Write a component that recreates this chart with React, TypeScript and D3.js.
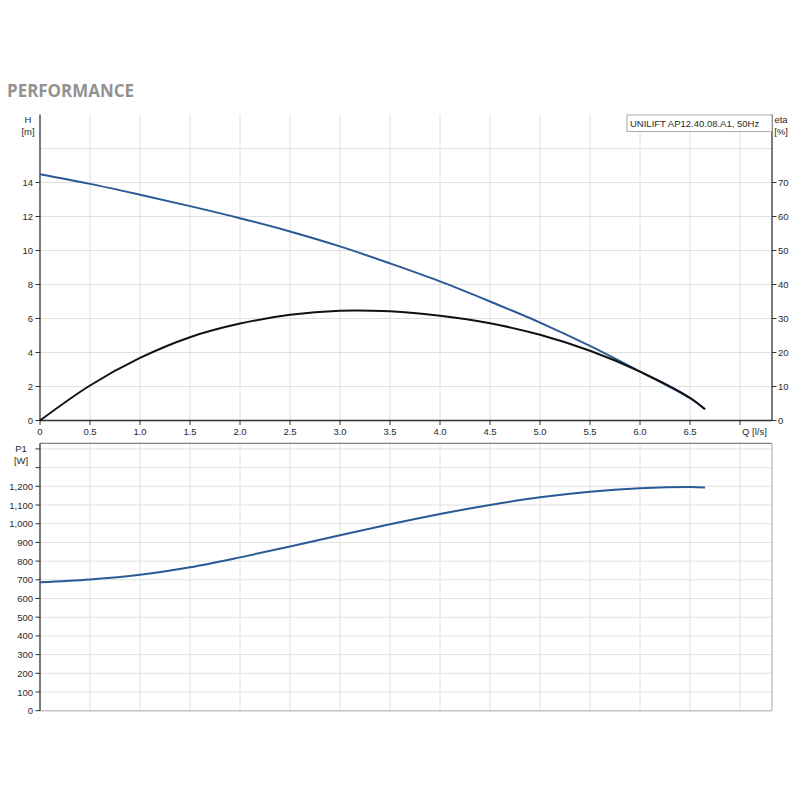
import React from 'react';
import * as d3 from 'd3';

// ---- data ----
const flowQ = [0, 0.5, 1, 1.5, 2, 2.5, 3, 3.5, 4, 4.5, 5, 5.5, 6, 6.5, 6.65];
const headH = [14.49, 13.92, 13.28, 12.61, 11.9, 11.12, 10.24, 9.24, 8.18, 7.0, 5.76, 4.39, 2.88, 1.31, 0.66];
const effEta = [0, 10.3, 18.4, 24.5, 28.5, 31.1, 32.3, 32.1, 30.8, 28.6, 25.2, 20.5, 14.4, 6.7, 3.3];
const powerP1 = [687, 702, 727, 767, 820, 878, 938, 997, 1052, 1100, 1141, 1171, 1189, 1196, 1194];

const qTickLabels = [0, 0.5, 1, 1.5, 2, 2.5, 3, 3.5, 4, 4.5, 5, 5.5, 6, 6.5];
const qGrid = [0.5, 1, 1.5, 2, 2.5, 3, 3.5, 4, 4.5, 5, 5.5, 6, 6.5, 7];
const hTicks = [0, 2, 4, 6, 8, 10, 12, 14];
const hGrid = [2, 4, 6, 8, 10, 12, 14, 16];
const etaTicks = [0, 10, 20, 30, 40, 50, 60, 70];
const p1Ticks = [0, 100, 200, 300, 400, 500, 600, 700, 800, 900, 1000, 1100, 1200, 1300, 1400];
const p1Labeled = [0, 100, 200, 300, 400, 500, 600, 700, 800, 900, 1000, 1100, 1200];

const titleText = 'PERFORMANCE';
const legendText = 'UNILIFT AP12.40.08.A1, 50Hz';
const hLabel = ['H', '[m]'];
const etaLabel = ['eta', '[%]'];
const p1Label = ['P1', '[W]'];
const qLabel = 'Q [l/s]';

const FONT = '"Liberation Sans", Arial, sans-serif';
const BLUE = '#2a5a96';
const GRID = '#e0e0e0';
const AX = '#333';
const TXT = '#2a2a2a';

export default function App() {
  const x = d3.scaleLinear().domain([0, 7.32]).range([40, 772]);
  const yH = d3.scaleLinear().domain([0, 18]).range([420.5, 114.5]);
  const yEta = d3.scaleLinear().domain([0, 90]).range([420.5, 114.5]);
  const yP = d3.scaleLinear().domain([0, 1430]).range([710.7, 443.3]);

  const idx = flowQ.map((_, i) => i);
  const curve = d3.curveCatmullRom.alpha(0.5);
  const lineH = d3.line<number>().x(i => x(flowQ[i])).y(i => yH(headH[i])).curve(curve);
  const lineEta = d3.line<number>().x(i => x(flowQ[i])).y(i => yEta(effEta[i])).curve(curve);
  const lineP = d3.line<number>().x(i => x(flowQ[i])).y(i => yP(powerP1[i])).curve(curve);

  const fmtQ = (v: number) => (v === 0 ? '0' : d3.format('.1f')(v));
  const fmtP = d3.format(',');

  const x0 = x(0);
  const x1 = x.range()[1];
  const tTop = yH.range()[1];
  const tBot = yH.range()[0];
  const bTop = yP.range()[1];
  const bBot = yP.range()[0];

  return (
    <svg width={800} height={800} style={{ position: 'absolute', left: 0, top: 0, background: '#fff' }}
      fontFamily={FONT}>
      <rect x={0} y={0} width={800} height={800} fill="#fff" />
      <text x={7} y={97} fontFamily='"Open Sans", sans-serif' fontWeight={700} fontSize={17.5}
        fill="#929292" textLength={127} lengthAdjust="spacingAndGlyphs">{titleText}</text>

      {/* ---- top panel ---- */}
      {qGrid.map(q => (
        <line key={'tg' + q} x1={x(q)} x2={x(q)} y1={tTop} y2={tBot} stroke={GRID} strokeWidth={1} />
      ))}
      {hGrid.map(h => (
        <line key={'th' + h} x1={x0} x2={x1} y1={yH(h)} y2={yH(h)} stroke={GRID} strokeWidth={1} />
      ))}
      {/* axes */}
      <line x1={x0} x2={x0} y1={tTop} y2={tBot} stroke={AX} strokeWidth={1.3} />
      <line x1={x1} x2={x1} y1={tTop} y2={tBot} stroke={AX} strokeWidth={1.3} />
      <line x1={x0} x2={x1} y1={tBot} y2={tBot} stroke={AX} strokeWidth={1.3} />
      {hTicks.map(h => (
        <g key={'ht' + h}>
          <line x1={x0 - 4.5} x2={x0} y1={yH(h)} y2={yH(h)} stroke={AX} strokeWidth={1} />
          <text x={x0 - 7} y={yH(h) + 3.5} fontSize={9.5} fill={TXT} textAnchor="end">{h}</text>
        </g>
      ))}
      {etaTicks.map(e => (
        <g key={'et' + e}>
          <line x1={x1} x2={x1 + 4.5} y1={yEta(e)} y2={yEta(e)} stroke={AX} strokeWidth={1} />
          <text x={x1 + 6} y={yEta(e) + 3.5} fontSize={9.5} fill={TXT} textAnchor="start">{e}</text>
        </g>
      ))}
      {qGrid.map(q => (
        <line key={'qt' + q} x1={x(q)} x2={x(q)} y1={tBot} y2={tBot + 4.5} stroke={AX} strokeWidth={1} />
      ))}
      <line x1={x0} x2={x0} y1={tBot} y2={tBot + 4.5} stroke={AX} strokeWidth={1} />
      {qTickLabels.map(q => (
        <text key={'ql' + q} x={x(q)} y={434.5} fontSize={9.5} fill={TXT} textAnchor="middle">{fmtQ(q)}</text>
      ))}
      <text x={x(7) + 2} y={434.5} fontSize={9.5} fill={TXT} textAnchor="start">{qLabel}</text>
      <text x={28} y={123} fontSize={9.5} fill={TXT} textAnchor="middle">{hLabel[0]}</text>
      <text x={28} y={135} fontSize={9.5} fill={TXT} textAnchor="middle">{hLabel[1]}</text>
      <text x={781} y={123} fontSize={9.5} fill={TXT} textAnchor="middle">{etaLabel[0]}</text>
      <text x={781} y={135} fontSize={9.5} fill={TXT} textAnchor="middle">{etaLabel[1]}</text>

      {/* legend box */}
      <rect x={627} y={115} width={x1 - 627} height={16.5} fill="#fff" stroke="#aaa" strokeWidth={1} />
      <text x={630} y={127} fontSize={9.5} fill={TXT}>{legendText}</text>

      {/* curves */}
      <path d={lineH(idx) || ''} fill="none" stroke={BLUE} strokeWidth={2} />
      <path d={lineEta(idx) || ''} fill="none" stroke="#111" strokeWidth={2} />

      {/* ---- bottom panel ---- */}
      {qGrid.map(q => (
        <line key={'bg' + q} x1={x(q)} x2={x(q)} y1={bTop} y2={bBot} stroke={GRID} strokeWidth={1} />
      ))}
      {p1Ticks.filter(p => p > 0).map(p => (
        <line key={'bp' + p} x1={x0} x2={x1} y1={yP(p)} y2={yP(p)} stroke={GRID} strokeWidth={1} />
      ))}
      <line x1={x0} x2={x1} y1={bTop} y2={bTop} stroke="#666" strokeWidth={1} />
      <line x1={x1} x2={x1} y1={bTop} y2={bBot} stroke="#bbb" strokeWidth={1.3} />
      <line x1={x0} x2={x1} y1={bBot} y2={bBot} stroke="#c4c4c4" strokeWidth={1.6} />
      <line x1={x0} x2={x0} y1={bTop} y2={bBot} stroke={AX} strokeWidth={1.3} />
      {p1Ticks.map(p => (
        <line key={'pt' + p} x1={x0 - 4.5} x2={x0} y1={yP(p)} y2={yP(p)} stroke={AX} strokeWidth={1} />
      ))}
      {p1Labeled.map(p => (
        <text key={'pl' + p} x={x0 - 7} y={yP(p) + 3.5} fontSize={9.5} fill={TXT} textAnchor="end">{fmtP(p)}</text>
      ))}
      <text x={21} y={452} fontSize={9.5} fill={TXT} textAnchor="middle">{p1Label[0]}</text>
      <text x={21} y={464} fontSize={9.5} fill={TXT} textAnchor="middle">{p1Label[1]}</text>

      <path d={lineP(idx) || ''} fill="none" stroke={BLUE} strokeWidth={2} />
    </svg>
  );
}
